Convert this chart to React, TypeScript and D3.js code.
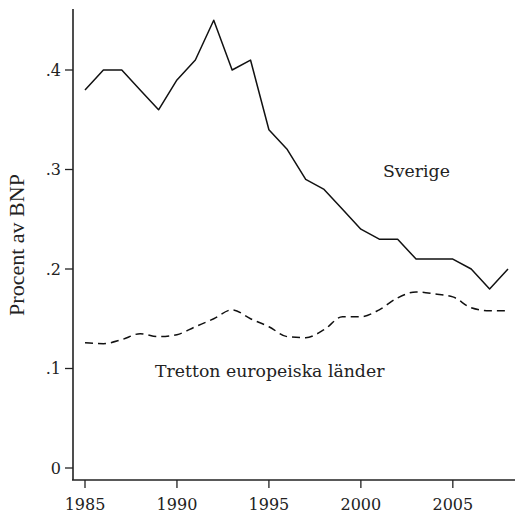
import React from "react";
import * as d3 from "d3";

const years = d3.range(1985, 2009);
const sverige = [0.38, 0.4, 0.4, 0.38, 0.36, 0.39, 0.41, 0.45, 0.4, 0.41, 0.34, 0.32, 0.29, 0.28, 0.26, 0.24, 0.23, 0.23, 0.21, 0.21, 0.21, 0.2, 0.18, 0.2];
const europa = [0.126, 0.125, 0.129, 0.135, 0.132, 0.134, 0.142, 0.15, 0.159, 0.15, 0.142, 0.132, 0.131, 0.139, 0.152, 0.152, 0.159, 0.171, 0.177, 0.175, 0.172, 0.161, 0.158, 0.158];
const yTicks = [0, 0.1, 0.2, 0.3, 0.4];
const xTicks = [1985, 1990, 1995, 2000, 2005];
const font = "'DejaVu Serif', serif";

export default function App() {
  const width = 515;
  const height = 516;
  const x = d3.scaleLinear().domain([1985, 2008]).range([85, 508]);
  const y = d3.scaleLinear().domain([0, 0.4]).range([468, 70]);

  const solid = d3.line<number>().x((d, i) => x(years[i])).y(d => y(d));
  const dashed = d3.line<number>().x((d, i) => x(years[i])).y(d => y(d)).curve(d3.curveMonotoneX);

  return (
    <svg width={width} height={height} style={{ position: "absolute", left: 0, top: 0, background: "white" }}>
      {/* axes */}
      <line x1={73} x2={73} y1={9} y2={480} stroke="#222" strokeWidth={1.6} />
      <line x1={72} x2={515} y1={480} y2={480} stroke="#222" strokeWidth={1.6} />
      {yTicks.map(t => (
        <g key={t}>
          <line x1={65} x2={73} y1={y(t)} y2={y(t)} stroke="#222" strokeWidth={1.3} />
          <text x={61} y={y(t)} dy="0.36em" textAnchor="end" fontFamily={font} fontSize={16} fill="#222">
            {t === 0 ? "0" : d3.format(".1f")(t).replace(/^0/, "")}
          </text>
        </g>
      ))}
      {xTicks.map(t => (
        <g key={t}>
          <line x1={x(t)} x2={x(t)} y1={480} y2={488} stroke="#222" strokeWidth={1.3} />
          <text x={x(t)} y={510} textAnchor="middle" fontFamily={font} fontSize={16} fill="#222">{t}</text>
        </g>
      ))}
      <text transform={`translate(23.5,245) rotate(-90)`} textAnchor="middle" fontFamily="'Liberation Serif', serif" fontSize={22} fill="#222">
        Procent av BNP
      </text>

      <path d={solid(sverige) || ""} fill="none" stroke="#111" strokeWidth={1.5} strokeLinejoin="round" />
      <path d={dashed(europa) || ""} fill="none" stroke="#111" strokeWidth={1.5} strokeDasharray="8,5" />

      <text x={383} y={177} fontFamily={font} fontSize={17.3} fill="#222">Sverige</text>
      <text x={155} y={377} fontFamily={font} fontSize={17.3} fill="#222">Tretton europeiska länder</text>
    </svg>
  );
}
